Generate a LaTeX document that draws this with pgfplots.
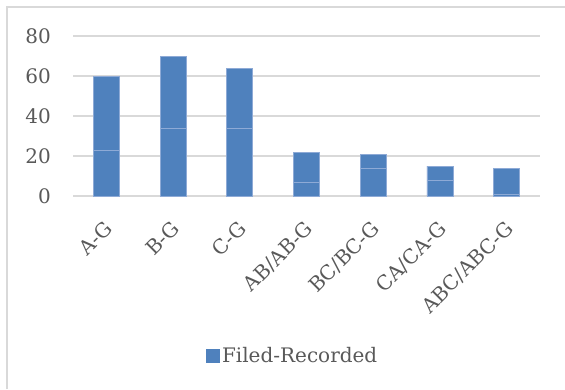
\documentclass[border=0pt]{standalone}
\usepackage{pgfplots}
\pgfplotsset{compat=1.18}
\usepackage{fontspec}
\setmainfont{DejaVu Serif}
\definecolor{barblue}{HTML}{4F81BD}
\definecolor{baredge}{HTML}{8EAAD6}
\definecolor{gridgray}{HTML}{D9D9D9}
\definecolor{textgray}{HTML}{595959}
\definecolor{framegray}{HTML}{D9D9D9}
\begin{document}
\fontsize{20bp}{24bp}\selectfont
\begin{tikzpicture}[x=1bp,y=1bp]
  % canvas and chart-area frame (only top and left edges show)
  \useasboundingbox (-73,196) rectangle (492,-193);
  \draw[framegray, line width=1.5bp] (-66,-193) -- (-66,189) -- (492,189);
  \begin{axis}[
    at={(0,0)}, anchor=south west,
    scale only axis,
    width=467bp, height=160bp,
    xmin=-0.5, xmax=6.5,
    ymin=0, ymax=80,
    ytick={0,20,40,60,80},
    xtick={0,...,6},
    xticklabels={A-G,B-G,C-G,AB/AB-G,BC/BC-G,CA/CA-G,ABC/ABC-G},
    axis line style={draw=none},
    major tick length=0pt,
    ymajorgrids,
    grid style={gridgray, line width=1.5bp},
    ybar stacked,
    bar width=26bp,
    tick label style={font=\fontsize{20bp}{24bp}\selectfont, text=textgray},
    yticklabel style={anchor=east, inner sep=0pt, xshift=-22bp},
    xticklabel style={rotate=45, anchor=north east, inner sep=0pt, xshift=-18.5bp, yshift=-14.5bp},
    /pgf/number format/assume math mode=true,
    legend style={draw=none, fill=none, inner sep=0pt, anchor=west,
      at={(axis description cs:0.285,-1.0)},
      font=\fontsize{20bp}{24bp}\selectfont, text=textgray},
    legend image code/.code={\fill[barblue] (0bp,-6.5bp) rectangle (13bp,6.5bp);},
  ]
    \addplot[fill=barblue, draw=baredge, line width=0.75bp]
      coordinates {(0,23) (1,34) (2,34) (3,7) (4,14) (5,8) (6,1)};
    \addlegendentry{Filed-Recorded}
    \addplot[fill=barblue, draw=baredge, line width=0.75bp, forget plot]
      coordinates {(0,37) (1,36) (2,30) (3,15) (4,7) (5,7) (6,13)};
  \end{axis}
\end{tikzpicture}
\end{document}
